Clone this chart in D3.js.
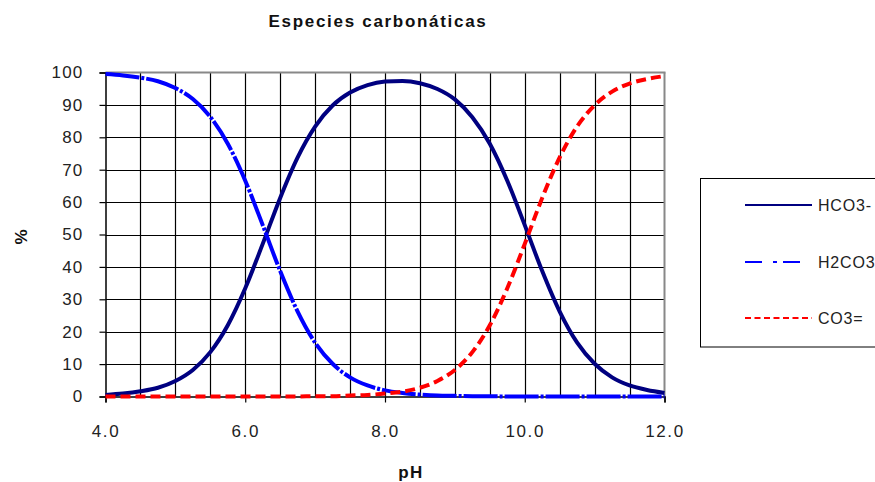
<!DOCTYPE html>
<html>
<head>
<meta charset="utf-8">
<script src="https://cdn.jsdelivr.net/npm/d3@7"></script>
<style>
  html, body { margin: 0; padding: 0; background: #fff; }
  svg { display: block; font-family: "Liberation Sans", Arial, sans-serif; }
</style>
</head>
<body>
<svg id="chart" width="875" height="482"></svg>
<script>
// ---- data ----
const pH = [4.0,4.25,4.5,4.75,5.0,5.25,5.5,5.75,6.0,6.25,6.5,6.75,7.0,7.25,7.5,7.75,8.0,8.25,8.5,8.75,9.0,9.25,9.5,9.75,10.0,10.25,10.5,10.75,11.0,11.25,11.5,11.75,12.0];
const hco3 = [0.5,0.9,1.6,2.7,4.8,8.2,13.7,22.0,33.4,47.1,61.3,73.8,83.3,89.8,93.8,96.1,97.2,97.4,96.7,94.9,91.7,86.2,78.0,66.6,52.9,38.7,26.2,16.6,10.1,5.9,3.4,2.0,1.1];
const h2co3 = [99.5,99.1,98.4,97.3,95.2,91.8,86.3,78.0,66.6,52.9,38.7,26.2,16.6,10.1,5.9,3.4,1.9,1.1,0.6,0.3,0.2,0.1,0.1,0,0,0,0,0,0,0,0,0,0];
const co3 = [0,0,0,0,0,0,0,0,0,0,0,0,0.1,0.1,0.3,0.5,0.9,1.5,2.7,4.8,8.2,13.7,22.0,33.4,47.1,61.3,73.8,83.4,89.9,94.1,96.6,98.0,98.9];
const seriesNames = ["HCO3-", "H2CO3", "CO3="];
const xTickLabels = [4, 6, 8, 10, 12];
const yTickValues = [0,10,20,30,40,50,60,70,80,90,100];
const xGridValues = [4,4.5,5,5.5,6,6.5,7,7.5,8,8.5,9,9.5,10,10.5,11,11.5,12];
const title = "Especies carbonáticas";
const xTitle = "pH";
const yTitle = "%";

// ---- layout ----
const svg = d3.select("#chart");
const x = d3.scaleLinear().domain([4, 12]).range([105.5, 664.5]);
const y = d3.scaleLinear().domain([0, 100]).range([396.5, 72.5]);

const styles = [
  { color: "#000080", dash: null, legendDash: null },
  { color: "#0000FF", dash: "34,2,3,2", legendDash: "17,11,4,6" },
  { color: "#FF0000", dash: "10,5", legendDash: "6,3.5" }
];
const seriesData = [hco3, h2co3, co3];

// grid
const grid = svg.append("g");
grid.selectAll("line.h").data(yTickValues.filter(v => v > 0 && v < 100)).join("line")
  .attr("x1", x(4)).attr("x2", x(12))
  .attr("y1", d => Math.round(y(d)) + 0.5).attr("y2", d => Math.round(y(d)) + 0.5)
  .attr("stroke", "#000").attr("stroke-width", 1.2);
grid.selectAll("line.v").data(xGridValues.filter(v => v > 4 && v < 12)).join("line")
  .attr("x1", d => Math.round(x(d)) + 0.5).attr("x2", d => Math.round(x(d)) + 0.5)
  .attr("y1", y(0)).attr("y2", y(100))
  .attr("stroke", "#000").attr("stroke-width", 1.2);

// plot border top/right (gray)
svg.append("line").attr("x1", x(4)).attr("x2", x(12) + 1).attr("y1", y(100)).attr("y2", y(100))
  .attr("stroke", "#888").attr("stroke-width", 2);
svg.append("line").attr("x1", x(12)).attr("x2", x(12)).attr("y1", y(100)).attr("y2", y(0))
  .attr("stroke", "#888").attr("stroke-width", 2);

// axes
const yAxis = d3.axisLeft(y).tickValues(yTickValues).tickSize(6).tickPadding(16).tickFormat(d3.format("d"));
const gy = svg.append("g").attr("transform", `translate(${x(4)},0)`).call(yAxis);
gy.select(".domain").attr("stroke", "#000").attr("stroke-width", 1.5);
gy.selectAll(".tick line").attr("stroke", "#000").attr("stroke-width", 1.2);
gy.selectAll(".tick text").attr("font-size", 17).attr("fill", "#222")
  .attr("letter-spacing", "1.2px").attr("font-family", "'Liberation Sans', Arial, sans-serif");

const xAxis = d3.axisBottom(x).tickValues(xTickLabels).tickSize(6).tickPadding(22).tickFormat(d3.format(".1f"));
const gx = svg.append("g").attr("transform", `translate(0,${y(0)})`).call(xAxis);
gx.select(".domain").attr("stroke", "#000").attr("stroke-width", 1.5);
gx.selectAll(".tick line").attr("stroke", "#000").attr("stroke-width", 1.2);
gx.selectAll(".tick text").attr("font-size", 17).attr("fill", "#222")
  .attr("letter-spacing", "1.6px").attr("font-family", "'Liberation Sans', Arial, sans-serif");

// series lines
const line = d3.line().x((d, i) => x(pH[i])).y(d => y(d)).curve(d3.curveMonotoneX);
seriesData.forEach((vals, k) => {
  const p = svg.append("path").datum(vals)
    .attr("d", line)
    .attr("fill", "none")
    .attr("stroke", styles[k].color)
    .attr("stroke-width", 4)
    .attr("stroke-linejoin", "round");
  if (styles[k].dash) p.attr("stroke-dasharray", styles[k].dash);
});

// titles
svg.append("text").attr("x", 378).attr("y", 26.5).attr("text-anchor", "middle")
  .attr("font-size", 17).attr("font-weight", "bold").attr("letter-spacing", "1.7px")
  .attr("fill", "#111").text(title);
svg.append("text").attr("x", 411).attr("y", 478).attr("text-anchor", "middle")
  .attr("font-size", 17).attr("font-weight", "bold").attr("letter-spacing", "1.5px")
  .attr("fill", "#111").text(xTitle);
svg.append("text").attr("transform", "translate(27,237) rotate(-90)").attr("text-anchor", "middle")
  .attr("font-size", 17).attr("font-weight", "bold").attr("fill", "#111").text(yTitle);

// legend
const lg = svg.append("g");
lg.append("rect").attr("x", 700.5).attr("y", 178.5).attr("width", 200).attr("height", 168.5)
  .attr("fill", "#fff").attr("stroke", "#000").attr("stroke-width", 1);
const legendY = [205, 262, 318];
seriesNames.forEach((name, k) => {
  const l = lg.append("line").attr("x1", 745).attr("x2", k === 1 ? 802 : 812)
    .attr("y1", legendY[k]).attr("y2", legendY[k])
    .attr("stroke", styles[k].color).attr("stroke-width", 2.2);
  if (styles[k].legendDash) l.attr("stroke-dasharray", styles[k].legendDash);
  lg.append("text").attr("x", 818).attr("y", legendY[k] + 6)
    .attr("font-size", 16).attr("letter-spacing", "0.8px").attr("fill", "#222").text(name);
});
</script>
</body>
</html>
